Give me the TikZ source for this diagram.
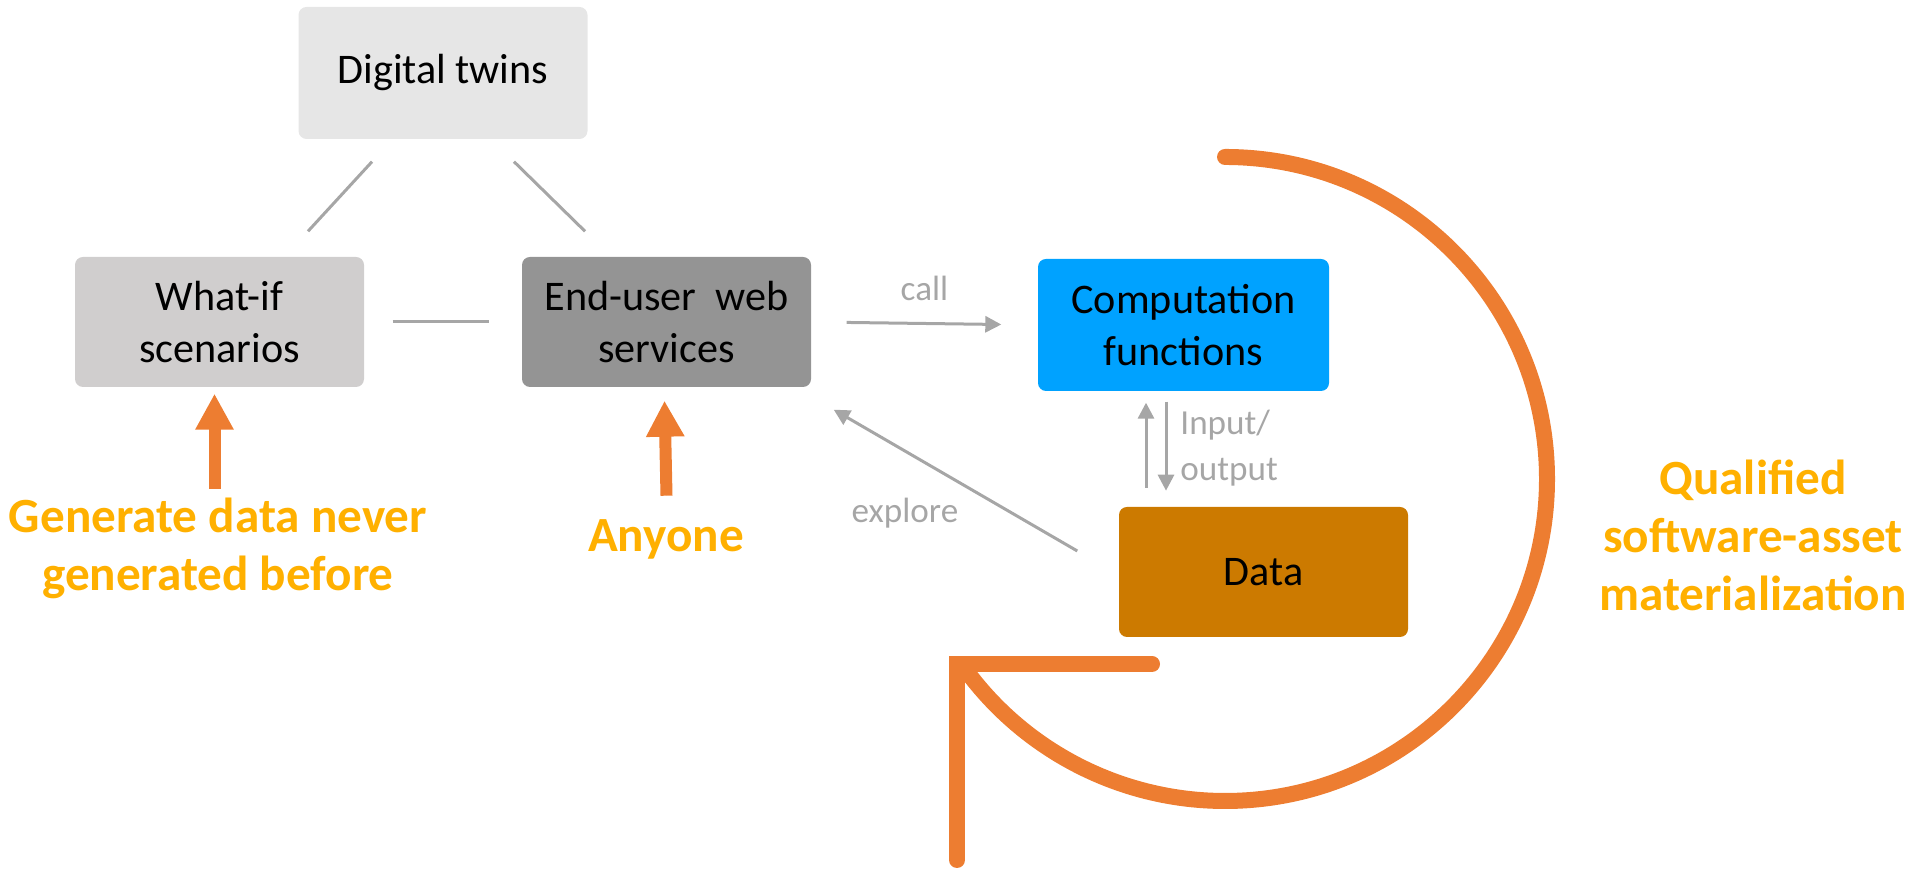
\documentclass[tikz,border=0pt]{standalone}
\usepackage{fontspec}
\setmainfont{Carlito}
\usetikzlibrary{arrows.meta}

\definecolor{kastenhell}{RGB}{230,230,230}
\definecolor{kastengrau}{RGB}{208,206,206}
\definecolor{kastendunkel}{RGB}{148,148,148}
\definecolor{kastenblau}{RGB}{0,162,255}
\definecolor{kastenbraun}{RGB}{204,122,0}
\definecolor{liniengrau}{RGB}{166,166,166}
\definecolor{pfeilorange}{RGB}{237,125,49}
\definecolor{textorange}{RGB}{255,176,0}

\begin{document}
\begin{tikzpicture}[
	kasten/.style={rounded corners=0.08cm, minimum width=2.89cm, minimum height=1.30cm,
		inner sep=0pt, align=center, font=\fontsize{12}{15}\selectfont},
	linie/.style={draw=liniengrau, line width=0.03cm},
	grau/.style={linie, -{Triangle[length=0.16cm,width=0.16cm]}},
	etikett/.style={text=liniengrau, font=\fontsize{10}{13}\selectfont},
	hinweis/.style={draw=pfeilorange, fill=pfeilorange, line width=0.12cm,
		-{Triangle[length=0.36cm,width=0.36cm]}},
	gelb/.style={text=textorange, align=center, font=\bfseries\fontsize{14}{16.5}\selectfont},
	bogen/.style={draw=pfeilorange, line width=0.16cm, line cap=round}
]
	\useasboundingbox (0,0) rectangle (19.28,8.70);

	% Kaesten
	\node[kasten, fill=kastenhell, minimum height=1.32cm] (twins) at (4.43,7.97) {Digital twins};
	\node[kasten, fill=kastengrau] (whatif) at (2.195,5.48) {What-if\\scenarios};
	\node[kasten, fill=kastendunkel] (websvc) at (6.665,5.48) {End-user~ web\\services};
	\node[kasten, fill=kastenblau, minimum width=2.91cm, minimum height=1.32cm] (compute) at (11.835,5.45) {Computation\\functions};
	\node[kasten, fill=kastenbraun] (data) at (12.635,2.98) {Data};

	% Verbindungen
	\draw[linie] ([xshift=-0.71cm,yshift=-0.22cm]twins.south) -- ([xshift=0.885cm,yshift=0.25cm]whatif.north);
	\draw[linie] ([xshift=0.71cm,yshift=-0.22cm]twins.south) -- ([xshift=-0.815cm,yshift=0.25cm]websvc.north);
	\draw[linie, shorten <=0.28cm, shorten >=0.32cm] (whatif.east) -- (websvc.west);
	\draw[grau, shorten <=0.35cm, shorten >=0.36cm] (websvc.east) -- node[above=0.1cm, etikett] (call) {call} (compute.west);

	% Input/Output
	\draw[grau] ([xshift=-0.375cm,yshift=-0.96cm]compute.south) -- ([xshift=-0.375cm,yshift=-0.11cm]compute.south);
	\draw[grau] ([xshift=-0.175cm,yshift=-0.10cm]compute.south) -- ([xshift=-0.175cm,yshift=-0.99cm]compute.south);
	\node[etikett, anchor=west, align=left] (io) at (11.68,4.22) {Input/\\output};

	% explore
	\draw[grau] ([xshift=-0.41cm,yshift=0.21cm]data.west) -- ([xshift=0.22cm,yshift=-0.22cm]websvc.south east);
	\node[etikett] (explore) at (9.05,3.57) {explore};

	% Hinweise unten
	\draw[hinweis] ([xshift=-0.05cm,yshift=-1.01cm]whatif.south) -- ([xshift=-0.05cm,yshift=-0.06cm]whatif.south);
	\draw[hinweis] ([yshift=-1.08cm]websvc.south) -- ([xshift=-0.02cm,yshift=-0.13cm]websvc.south);
	\node[gelb] (generate) at (2.18,3.22) {Generate data never\\generated before};
	\node[gelb] (anyone) at (6.66,3.31) {Anyone};

	% Kreispfeil
	\coordinate (mitte) at (12.25,3.91);
	\coordinate (spitze) at (9.57,2.06);
	\draw[bogen] ([shift={(90:3.22)}]mitte) arc[start angle=90, end angle=-143, radius=3.22cm] -- (spitze);
	\draw[bogen] ([xshift=1.95cm]spitze) -- (spitze) -- ([yshift=-1.96cm]spitze);
	\node[gelb] (qualified) at (17.53,3.35) {Qualified\\software-asset\\materialization};
\end{tikzpicture}
\end{document}
